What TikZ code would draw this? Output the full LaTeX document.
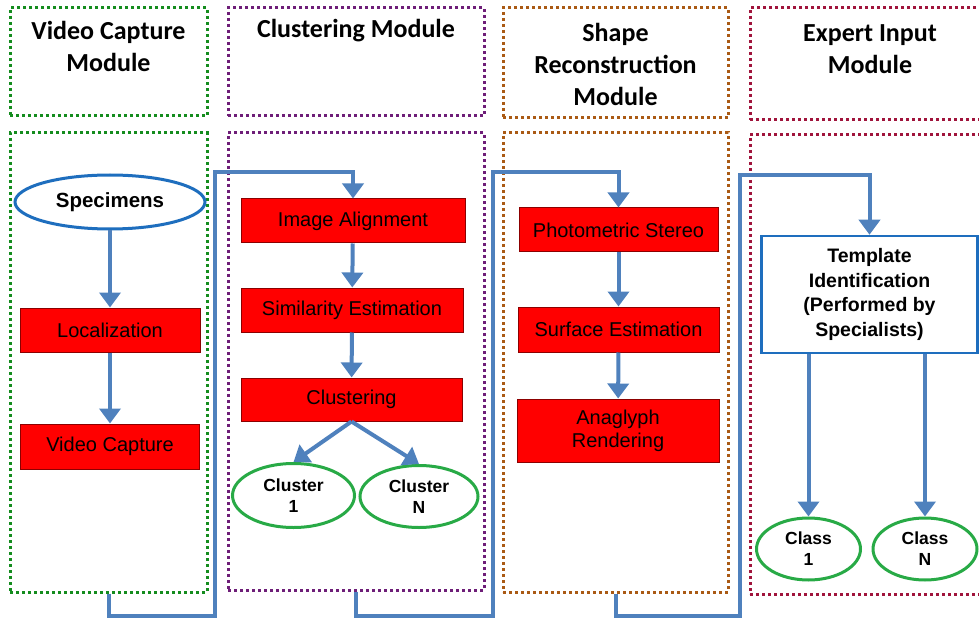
\documentclass[tikz,border=0pt]{standalone}
\usepackage{fontspec}
\setmainfont{Liberation Sans}
\newfontfamily\titlefont{Carlito}
\usetikzlibrary{shapes.geometric,arrows.meta}
\definecolor{cgreen}{RGB}{20,140,30}
\definecolor{cpurple}{RGB}{110,30,120}
\definecolor{cbrown}{RGB}{170,90,20}
\definecolor{ccrimson}{RGB}{160,20,60}
\definecolor{cblue}{RGB}{79,129,189}
\definecolor{eblue}{RGB}{30,110,190}
\definecolor{egreen}{RGB}{40,170,70}
\begin{document}
\begin{tikzpicture}[x=1pt,y=-1pt,
 modbox/.style={draw, line width=3pt, dash pattern=on 3pt off 3pt, inner sep=0pt},
 ttl/.style={font=\titlefont\bfseries\fontsize{26}{32}\selectfont, align=center, inner sep=0pt},
 redbox/.style={draw=red!55!black, line width=1pt, fill=red, font=\fontsize{20}{23}\selectfont, align=center, inner sep=0pt},
 oval/.style={ellipse, draw, line width=3pt, fill=white, align=center, inner sep=0pt},
 ovaltext/.style={font=\bfseries\fontsize{17.5}{21}\selectfont},
 conn/.style={draw=cblue, line width=4pt, -{Triangle[width=21pt,length=15pt]}}
]
\useasboundingbox (0,0) rectangle (979,620);

% module frames
\node[modbox, draw=cgreen, minimum width=197pt, minimum height=108pt] (vt) at (108.5,62) {};
\node[modbox, draw=cpurple, minimum width=256pt, minimum height=108pt] (ct) at (356,62) {};
\node[modbox, draw=cbrown, minimum width=225pt, minimum height=110pt] (st) at (615.5,63) {};
\node[modbox, draw=ccrimson, minimum width=240pt, minimum height=112pt] (et) at (870,64) {};

\node[modbox, draw=cgreen, minimum width=197pt, minimum height=459pt] (vb) at (108.5,362.5) {};
\node[modbox, draw=cpurple, minimum width=256pt, minimum height=457pt] (cb) at (356,361.5) {};
\node[modbox, draw=cbrown, minimum width=225pt, minimum height=459pt] (sb) at (615.5,362.5) {};
\node[modbox, draw=ccrimson, minimum width=240pt, minimum height=459pt] (eb) at (870,364.5) {};

% titles
\node[ttl] (t1) at (108.5,46) {Video Capture\\Module};
\node[ttl] (t2) at (356,31) {Clustering Module};
\node[ttl] (t3) at (615.5,64) {Shape\\Reconstruction\\Module};
\node[ttl] (t4) at (870,49) {Expert Input\\Module};

% video capture column
\node[oval, draw=eblue, minimum width=190pt, minimum height=54pt, font=\bfseries\fontsize{20.5}{24}\selectfont] (spec) at (110,202) {Specimens};
\node[redbox, minimum width=180pt, minimum height=44pt] (loc) at (110,330) {Localization};
\node[redbox, minimum width=179pt, minimum height=45pt] (vc) at (110,446.5) {Video Capture};

% clustering column
\node[redbox, minimum width=224pt, minimum height=44pt] (ia) at (353,221) {Image Alignment};
\node[redbox, minimum width=222pt, minimum height=44pt] (se) at (352,310) {Similarity Estimation};
\node[redbox, minimum width=221pt, minimum height=43pt] (cl) at (351.5,399.5) {Clustering};
\node[oval, ovaltext, draw=egreen, minimum width=122pt, minimum height=64pt] (c1) at (293.5,495.5) {Cluster\\1};
\node[oval, ovaltext, draw=egreen, minimum width=118pt, minimum height=62pt] (cn) at (419,496.5) {Cluster\\N};

% shape reconstruction column
\node[redbox, minimum width=199pt, minimum height=44pt] (ps) at (618.5,230) {Photometric Stereo};
\node[redbox, minimum width=201pt, minimum height=45pt] (sf) at (618.5,329.5) {Surface Estimation};
\node[redbox, minimum width=202pt, minimum height=63pt] (an) at (618,430.5) {Anaglyph\\Rendering};

% expert input column
\node[draw=eblue, line width=2.5pt, fill=white, minimum width=216pt, minimum height=117pt, align=center, inner sep=0pt, font=\bfseries\fontsize{19.5}{24.5}\selectfont] (tpl) at (869.5,294.5) {Template\\Identification\\(Performed by\\Specialists)};
\node[oval, ovaltext, draw=egreen, minimum width=104pt, minimum height=62pt] (k1) at (808.5,549) {Class\\1};
\node[oval, ovaltext, draw=egreen, minimum width=104pt, minimum height=62pt] (kn) at (925,549) {Class\\N};

% bend points
\coordinate (b1) at (215,616);
\coordinate (b2) at (215,172);
\coordinate (b3) at (493,616);
\coordinate (b4) at (493,172);
\coordinate (b5) at (740,616);
\coordinate (b6) at (740,175);

% connectors
\draw[conn] (spec) -- (loc);
\draw[conn] (loc) -- (vc);
\draw[conn] (vb.south) |- (b1) -- (b2) -| (ia.north);
\draw[conn] (ia) -- (se);
\draw[conn] (se) -- (cl);
\draw[conn] (cl.south) -- (c1.north);
\draw[conn] (cl.south) -- (cn.north);
\draw[conn] (cb.south) |- (b3) -- (b4) -| (ps.north);
\draw[conn] (ps) -- (sf);
\draw[conn] (sf) -- (an);
\draw[conn] (sb.south) |- (b5) -- (b6) -| (tpl.north);
\draw[conn] (tpl.south -| k1.north) -- (k1.north);
\draw[conn] (tpl.south -| kn.north) -- (kn.north);
\end{tikzpicture}
\end{document}
